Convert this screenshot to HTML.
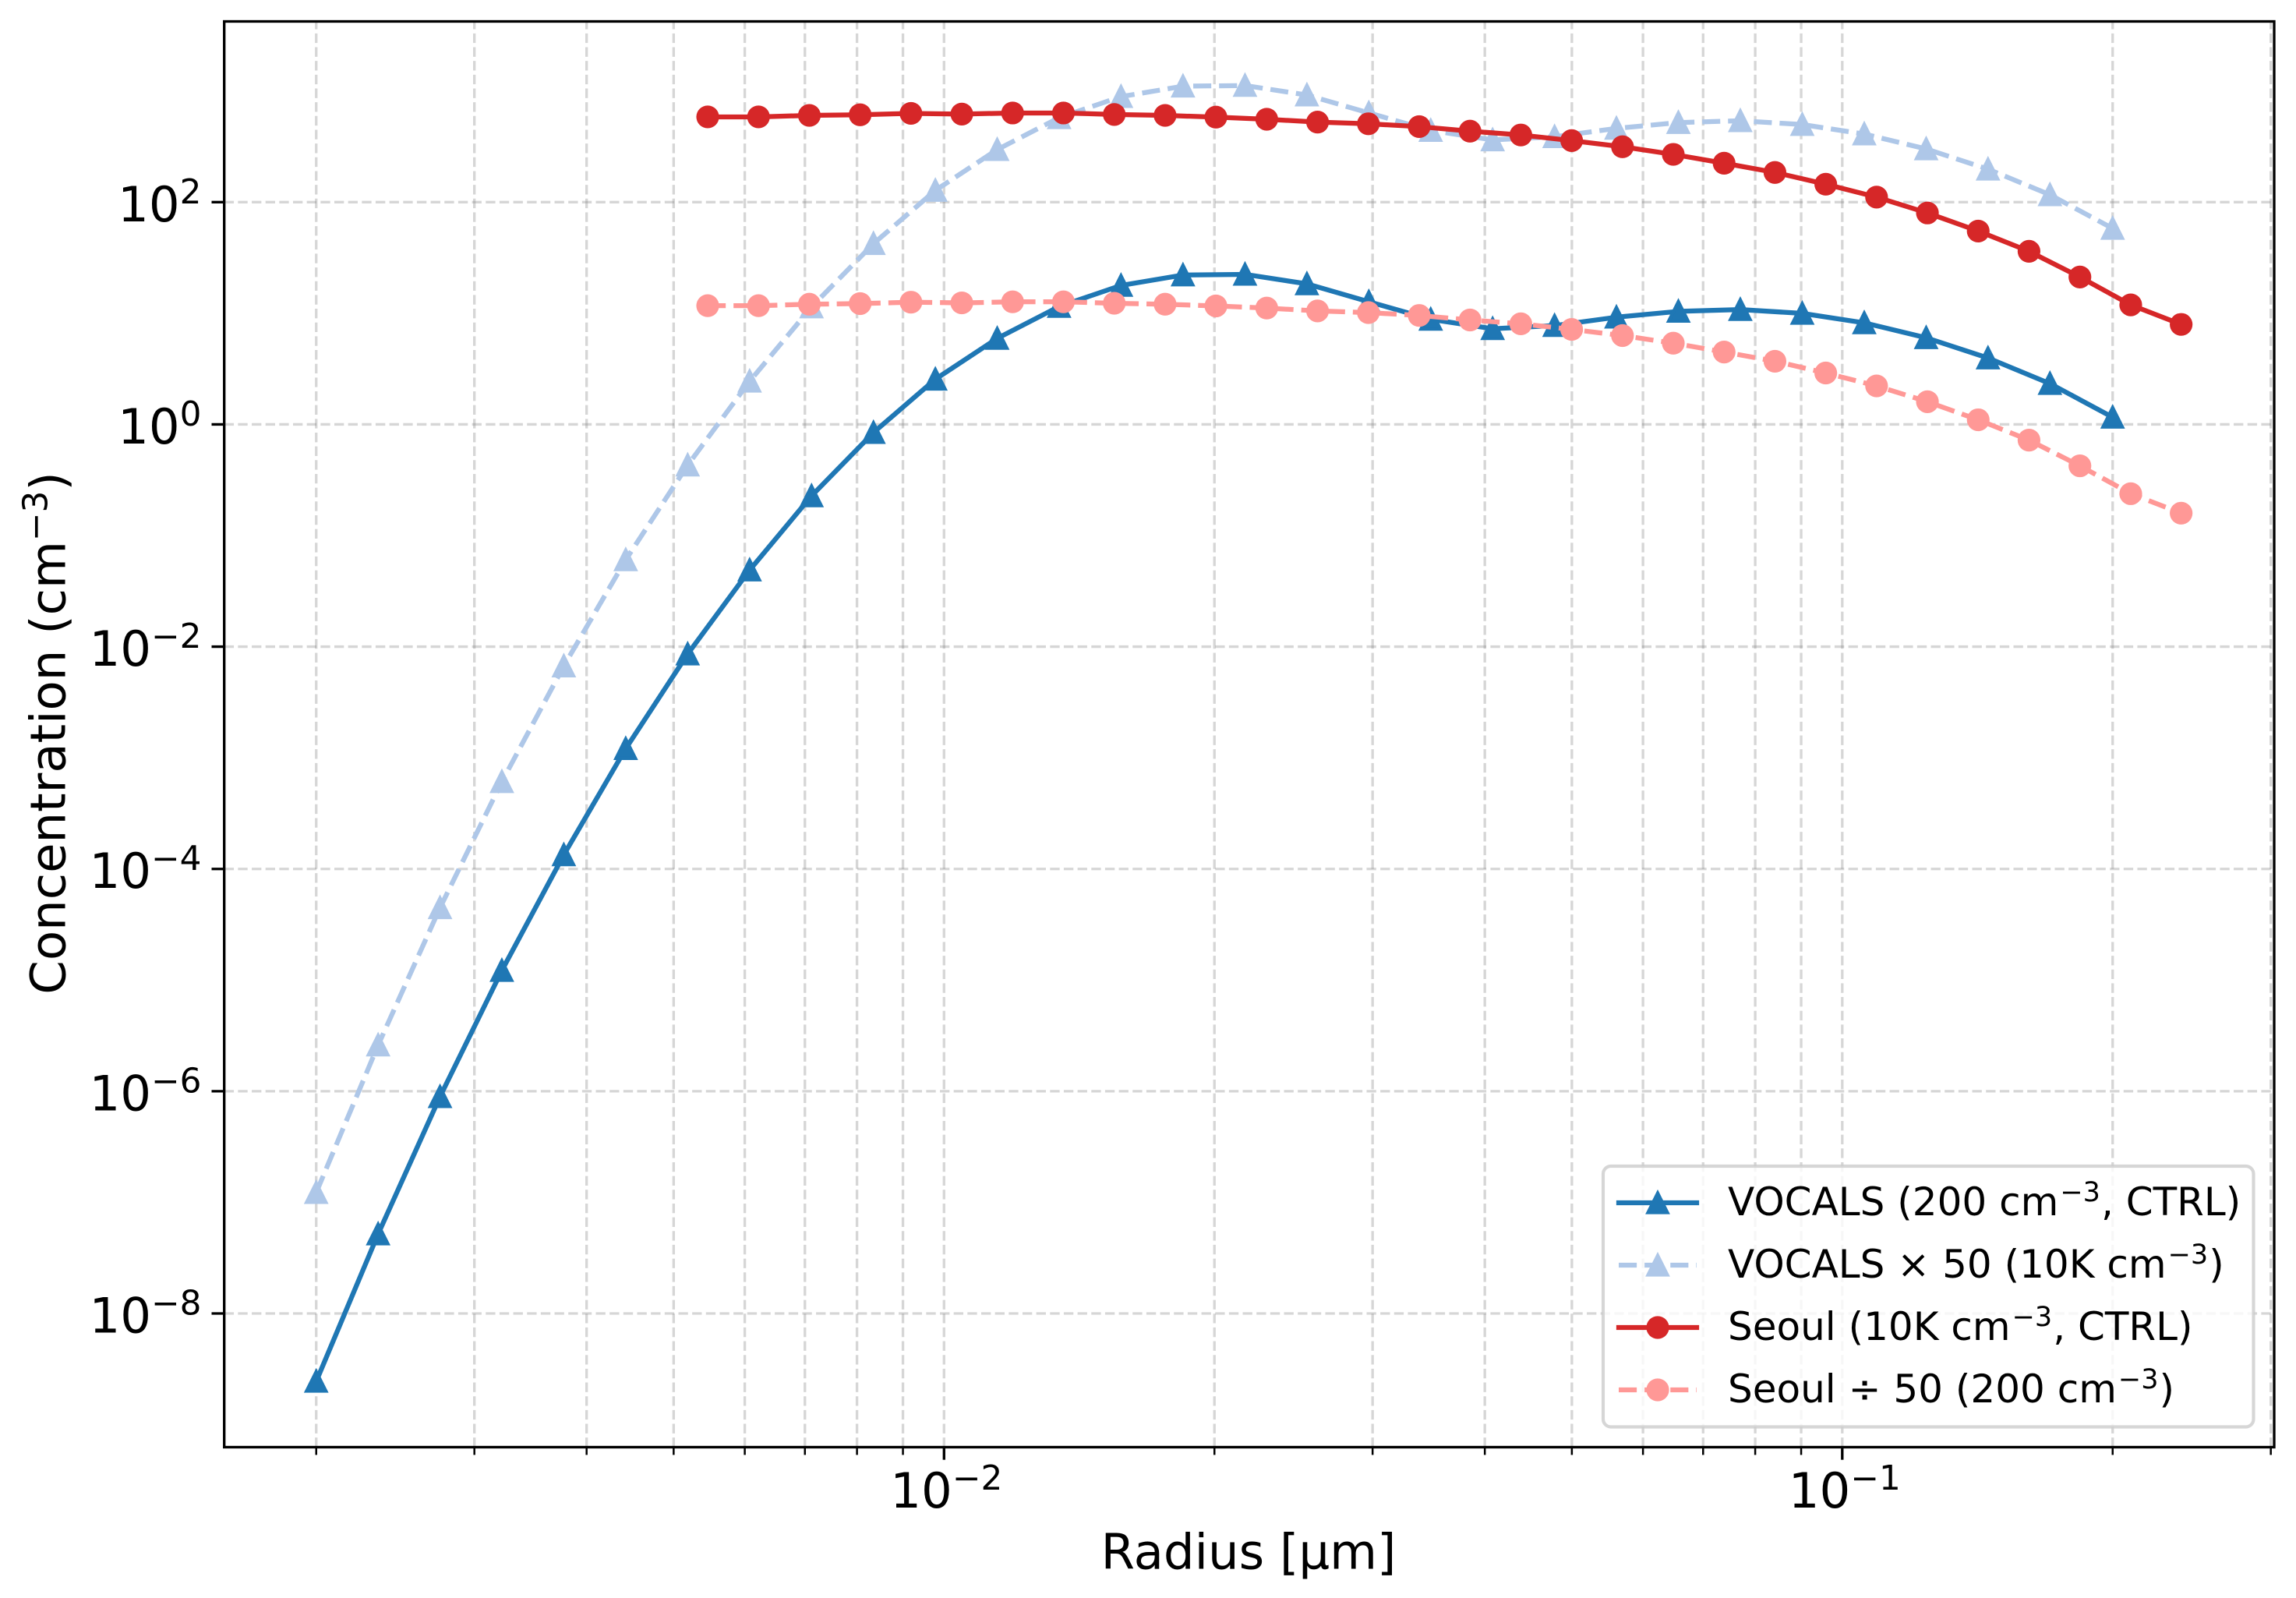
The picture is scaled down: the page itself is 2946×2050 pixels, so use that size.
<!DOCTYPE html>
<html lang="en">
<head>
<meta charset="utf-8">
<title>Concentration vs Radius</title>
<style>
html,body{margin:0;padding:0;background:#fff;}
svg{display:block;}
text{font-family:"DejaVu Sans",sans-serif;fill:#000;}
</style>
</head>
<body>
<svg id="chart" xmlns="http://www.w3.org/2000/svg" width="2946" height="2050" viewBox="0 0 2946 2050">
  <rect x="0" y="0" width="2946" height="2050" fill="#ffffff"/>
  <defs>
    <clipPath id="plot-clip"><rect x="287.7" y="27.5" width="2630.3" height="1829"/></clipPath>
  </defs>
  <g id="grid" clip-path="url(#plot-clip)"></g>
  <g id="series"></g>
  <rect x="287.7" y="27.5" width="2630.3" height="1829" fill="none" stroke="#000" stroke-width="3.33"/>
  <g id="ticks"></g>
  <g id="tick-labels"></g>

  <text x="1602" y="2012.5" font-size="62.5" text-anchor="middle">Radius [µm]</text>
  <text transform="translate(83.5,940.5) rotate(-90)" font-size="62.5" text-anchor="middle">Concentration (cm<tspan dy="-23" font-size="43.75">−3</tspan><tspan dy="23">)</tspan></text>

  <g>
    <rect x="2057" y="1496" width="834.5" height="334.5" rx="10" ry="10" fill="#ffffff" fill-opacity="0.8" stroke="#cccccc" stroke-opacity="0.8" stroke-width="4.17"/>
    <g>
      <line x1="2077" y1="1543" x2="2177" y2="1543" stroke="#1f77b4" stroke-width="6.25" stroke-linecap="square"/>
      <polygon points="2127,1530.5 2114.5,1555.5 2139.5,1555.5" fill="#1f77b4" stroke="#1f77b4" stroke-width="4.17"/>
      <text x="2217" y="1559" font-size="50">VOCALS (200 cm<tspan dy="-18" dx="2" font-size="35">−3</tspan><tspan dy="18" dx="1">, CTRL)</tspan></text>
    </g>
    <g>
      <line x1="2077" y1="1623" x2="2177" y2="1623" stroke="#aec7e8" stroke-width="6.25" stroke-dasharray="23.125 10"/>
      <polygon points="2127,1610.5 2114.5,1635.5 2139.5,1635.5" fill="#aec7e8" stroke="#aec7e8" stroke-width="4.17"/>
      <text x="2217" y="1639" font-size="50">VOCALS × 50 (10K cm<tspan dy="-18" dx="2" font-size="35">−3</tspan><tspan dy="18" dx="1">)</tspan></text>
    </g>
    <g>
      <line x1="2077" y1="1703" x2="2177" y2="1703" stroke="#d62728" stroke-width="6.25" stroke-linecap="square"/>
      <circle cx="2127" cy="1703" r="14.6" fill="#d62728"/>
      <text x="2217" y="1719" font-size="50">Seoul (10K cm<tspan dy="-18" dx="2" font-size="35">−3</tspan><tspan dy="18" dx="1">, CTRL)</tspan></text>
    </g>
    <g>
      <line x1="2077" y1="1783" x2="2177" y2="1783" stroke="#ff9896" stroke-width="6.25" stroke-dasharray="23.125 10"/>
      <circle cx="2127" cy="1783" r="14.6" fill="#ff9896"/>
      <text x="2217" y="1799" font-size="50">Seoul ÷ 50 (200 cm<tspan dy="-18" dx="2" font-size="35">−3</tspan><tspan dy="18" dx="1">)</tspan></text>
    </g>
  </g>
</svg>
<script>
// ---- chart data ----
var vocalsRadius = [0.002,0.002344,0.002747,0.003219,0.003773,0.004422,0.005183,0.006075,0.00712,0.008345,0.00978,0.01146,0.01343,0.01574,0.01845,0.02163,0.02535,0.02971,0.03482,0.04081,0.04783,0.05605,0.0657,0.077,0.09025,0.1058,0.124,0.1453,0.1703,0.2];
var vocalsValues = [2.45e-9,5.19e-8,8.93e-7,1.22e-5,1.34e-4,1.21e-3,8.59e-3,4.89e-2,0.2275,0.845,2.55,5.94,11.5,17.8,22.1,22.4,18.4,12.7,8.82,7.26,7.75,9.22,10.4,10.8,9.98,8.20,6.02,3.96,2.33,1.16];
var vocalsX50Values = [1.225e-7,2.6e-6,4.47e-5,6.1e-4,6.7e-3,0.0605,0.43,2.445,11.4,42.3,127.5,297,575,890,1105,1120,920,635,441,363,387.5,461,520,540,499,410,301,198,116.5,58];
var seoulRadius = [0.005456,0.006215,0.00708,0.008065,0.009187,0.010466,0.011922,0.013581,0.015471,0.017624,0.020076,0.02287,0.026052,0.029677,0.033806,0.03851,0.043869,0.049973,0.056927,0.064848,0.073871,0.08415,0.09586,0.1092,0.1244,0.1417,0.1614,0.1839,0.2095,0.2384];
var seoulValues = [585,585,603,611,629,620,634,634,615,603,582,557,525,507,478,435,402,358,315,269,224,185,145,111,79.9,54.9,36.1,21.2,11.9,7.94];
var seoulDiv50Values = [11.7,11.7,12.06,12.22,12.58,12.4,12.68,12.68,12.3,12.06,11.64,11.14,10.5,10.14,9.56,8.7,8.04,7.16,6.3,5.38,4.48,3.7,2.9,2.22,1.6,1.1,0.722,0.424,0.238,0.159];

var xMajorTicks = [0.01,0.1];
var xMinorTicks = [0.002,0.003,0.004,0.005,0.006,0.007,0.008,0.009,0.02,0.03,0.04,0.05,0.06,0.07,0.08,0.09,0.2,0.3];
var xTickExponents = ['−2','−1'];
var yTicks = [1e-8,1e-6,1e-4,1e-2,1,100];
var yTickExponents = ['−8','−6','−4','−2','0','2'];

// ---- axis functions ----
function xAxis(r){ return 1211.3 + 1152.5 * Math.log10(r / 0.01); }
function yAxis(v){ return 544.45 - 142.57 * Math.log10(v); }

var NS = 'http://www.w3.org/2000/svg';
var PLOT = {left:287.7, right:2918, top:27.5, bottom:1856.5};
var gridG = document.getElementById('grid');
var tickG = document.getElementById('ticks');
var labelG = document.getElementById('tick-labels');
var seriesG = document.getElementById('series');

function make(tag, attrs, parent){
  var el = document.createElementNS(NS, tag);
  for (var k in attrs) el.setAttribute(k, attrs[k]);
  parent.appendChild(el);
  return el;
}

var gridStyle = {stroke:'#808080','stroke-opacity':0.32,'stroke-width':3.33,'stroke-dasharray':'12.33 5.33',fill:'none'};
function gridLine(x1,y1,x2,y2,name){
  var a = {x1:x1,y1:y1,x2:x2,y2:y2};
  for (var k in gridStyle) a[k] = gridStyle[k];
  var el = make('line', a, gridG);
  
  
}
function tickLine(x1,y1,x2,y2,w,name){
  var el = make('line', {x1:x1,y1:y1,x2:x2,y2:y2,stroke:'#000','stroke-width':w}, tickG);
  
  
}
function tickLabel(x,y,anchor,exp,name){
  var t = make('text', {x:x,y:y,'font-size':62.5,'text-anchor':anchor}, labelG);
  
  
  t.appendChild(document.createTextNode('10'));
  var s = make('tspan', {dy:-23,'font-size':43.75}, t);
  s.textContent = exp;
}

xMinorTicks.forEach(function(r){
  var x = xAxis(r);
  gridLine(x, PLOT.bottom, x, PLOT.top, 'x-minor-gridline');
  tickLine(x, PLOT.bottom, x, PLOT.bottom + 8.33 + 1.6, 2.5, 'x-minor-tick');
});
xMajorTicks.forEach(function(r, i){
  var x = xAxis(r);
  gridLine(x, PLOT.bottom, x, PLOT.top, 'x-major-gridline');
  tickLine(x, PLOT.bottom, x, PLOT.bottom + 14.6 + 1.6, 3.33, 'x-major-tick');
  tickLabel(x + 3, 1934, 'middle', xTickExponents[i], 'x-tick-label');
});
yTicks.forEach(function(v, i){
  var y = yAxis(v);
  gridLine(PLOT.left, y, PLOT.right, y, 'y-major-gridline');
  tickLine(PLOT.left - 14.6 - 1.6, y, PLOT.left, y, 3.33, 'y-major-tick');
  tickLabel(258.5, y + 24.5, 'end', yTickExponents[i], 'y-tick-label');
});

function drawSeries(name, radius, values, color, dashed, marker){
  var g = make('g', {}, seriesG);
  
  
  var pts = radius.map(function(r, i){ return xAxis(r).toFixed(2) + ',' + yAxis(values[i]).toFixed(2); }).join(' ');
  var line = make('polyline', {points:pts,fill:'none',stroke:color,'stroke-width':6.25,'stroke-linejoin':'round','stroke-linecap':dashed?'butt':'square'}, g);
  
  
  if (dashed) line.setAttribute('stroke-dasharray', '23.125 10');
  radius.forEach(function(r, i){
    var x = xAxis(r), y = yAxis(values[i]), m;
    if (marker === 'triangle') {
      m = make('polygon', {points:x+','+(y-12.5)+' '+(x-12.5)+','+(y+12.5)+' '+(x+12.5)+','+(y+12.5),fill:color,stroke:color,'stroke-width':4.17,'stroke-linejoin':'miter'}, g);
    } else {
      m = make('circle', {cx:x,cy:y,r:14.6,fill:color}, g);
    }
    
    
  });
}
drawSeries('vocals', vocalsRadius, vocalsValues, '#1f77b4', false, 'triangle');
drawSeries('vocals-x50', vocalsRadius, vocalsX50Values, '#aec7e8', true, 'triangle');
drawSeries('seoul', seoulRadius, seoulValues, '#d62728', false, 'circle');
drawSeries('seoul-div50', seoulRadius, seoulDiv50Values, '#ff9896', true, 'circle');
</script>
</body>
</html>
